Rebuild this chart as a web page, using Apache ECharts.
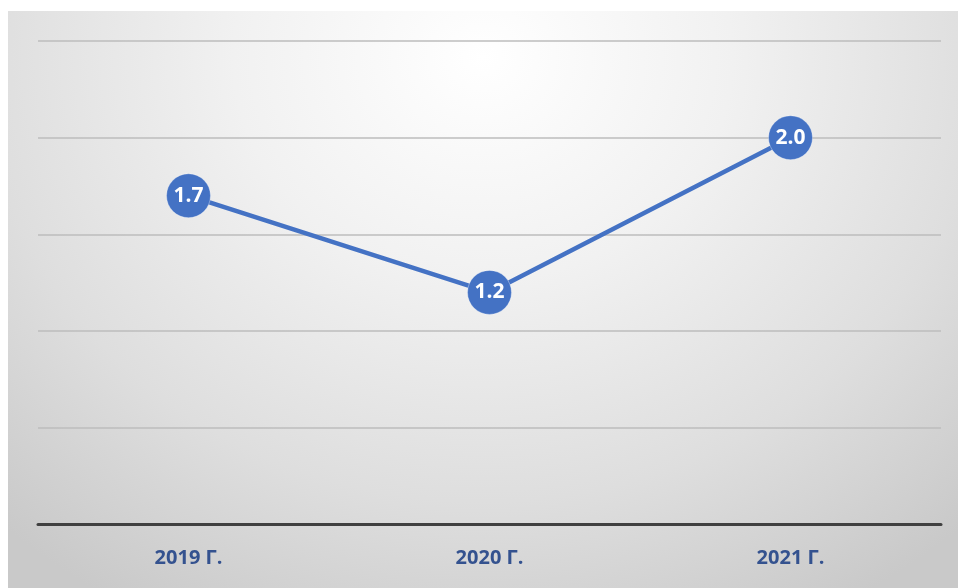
<!DOCTYPE html>
<html>
<head>
<meta charset="utf-8">
<script src="https://cdn.jsdelivr.net/npm/echarts@6/dist/echarts.min.js"></script>
<style>
html,body{margin:0;padding:0;background:#fff;}
#bg{position:absolute;left:8px;top:11px;width:950px;height:577px;
 background:radial-gradient(ellipse 75% 110% at 50% 8%, #ffffff 0%, #f1f1f1 35%, #dedede 70%, #c9c9c9 100%);}
#chart{position:absolute;left:0;top:0;width:958px;height:588px;}
</style>
</head>
<body>
<div id="bg"></div>
<div id="chart"></div>
<script>
var categories = ['2019 Г.', '2020 Г.', '2021 Г.'];
var values = [1.7, 1.2, 2.0];
var yMin = 0, yMax = 2.5, yStep = 0.5;

var chart = echarts.init(document.getElementById('chart'), null, {renderer:'canvas'});
chart.setOption({
  backgroundColor: 'transparent',
  animation: false,
  grid: {left: 38, right: 17, top: 41, bottom: 63.5, containLabel: false},
  xAxis: {
    type: 'category',
    data: categories,
    boundaryGap: true,
    axisLine: {show: true, lineStyle: {color: '#404040', width: 3}},
    axisTick: {show: false},
    axisLabel: {color: '#34528f', fontWeight: 'bold', fontSize: 20, margin: 24,
      fontFamily: '"Open Sans", "Noto Sans", sans-serif'},
    splitLine: {show: false}
  },
  yAxis: {
    type: 'value',
    min: yMin, max: yMax, interval: yStep,
    axisLine: {show: false},
    axisTick: {show: false},
    axisLabel: {show: false},
    splitLine: {show: true, lineStyle: {color: '#bdbdbd', width: 1.5}}
  },
  series: [{
    type: 'line',
    data: values,
    symbol: 'circle',
    symbolSize: 44,
    lineStyle: {color: '#4472C4', width: 4.5},
    itemStyle: {color: '#4472C4', borderColor: 'rgba(255,255,255,0.35)', borderWidth: 1},
    label: {
      show: true, position: 'inside', color: '#ffffff', fontWeight: 'bold', fontSize: 21,
      fontFamily: '"Open Sans", "Noto Sans", sans-serif',
      formatter: function(p){ return p.value.toFixed(1); }
    },
    z: 3
  }]
});
</script>
</body>
</html>
